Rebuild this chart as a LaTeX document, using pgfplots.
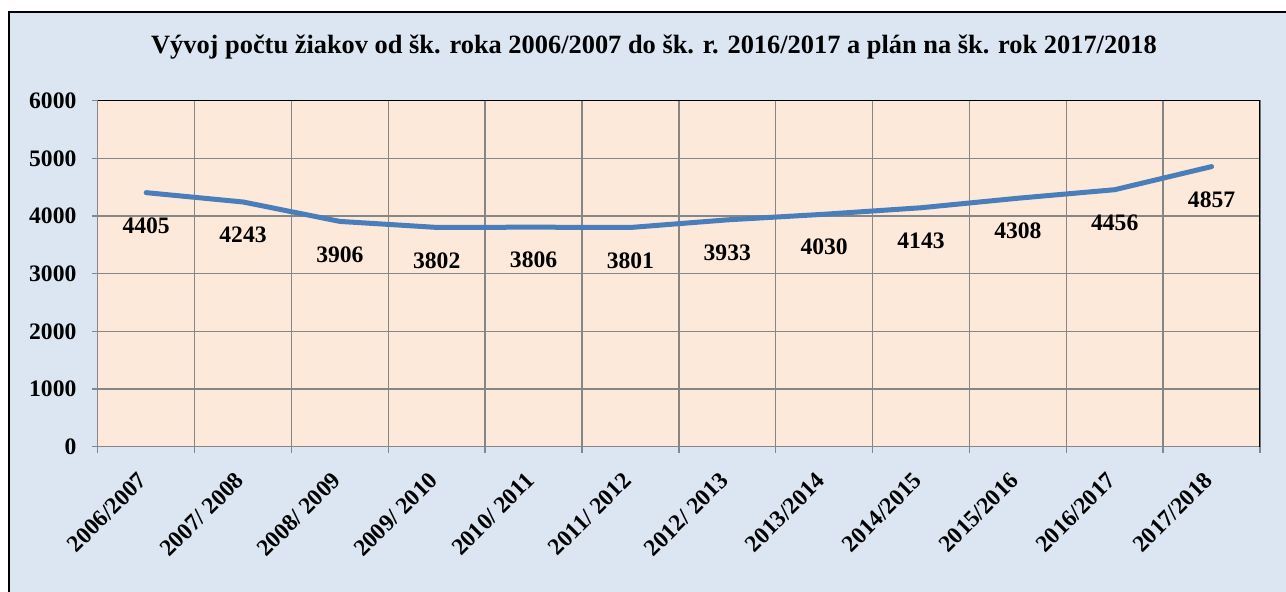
\documentclass[border=0pt]{standalone}
\usepackage{fontspec}
\setmainfont{Liberation Serif}
\usepackage{pgfplots}
\pgfplotsset{compat=1.18}
\definecolor{bgblue}{HTML}{DCE6F2}
\definecolor{peach}{HTML}{FDE9D9}
\definecolor{lineblue}{HTML}{4A7EBB}
\definecolor{gridgray}{HTML}{868686}
\begin{document}
\begin{tikzpicture}
\useasboundingbox (0,0) rectangle (964.5pt,444pt);
\fill[white] (0,0) rectangle (964.5pt,444pt);
\fill[bgblue] (6.75pt,0) rectangle (964.5pt,435pt);
\draw[black, line width=1.2pt] (6.75pt,0) -- (6.75pt,435pt) -- (964.5pt,435pt);
\node[font=\bfseries\fontsize{19.8}{23}\selectfont] at (490.5pt,408.75pt) {Vývoj počtu žiakov od šk. roka 2006/2007 do šk. r. 2016/2017 a plán na šk. rok 2017/2018};
\begin{axis}[
  at={(73.3pt,109pt)}, anchor=south west, scale only axis,
  width=871.7pt, height=259.5pt,
  xmin=-0.5, xmax=11.5, ymin=0, ymax=6000,
  axis background/.style={fill=peach},
  xtick={-0.5,0.5,...,11.5}, xticklabels={},
  ytick={0,1000,...,6000},
  xtick pos=bottom, ytick pos=left,
  scaled y ticks=false,
  /pgf/number format/1000 sep={},
  /pgf/number format/assume math mode=true,
  grid=major, major grid style={gridgray, line width=1pt},
  tick align=outside, major tick length=4.5pt,
  tick style={gridgray, line width=1pt},
  axis line style={gridgray, line width=1pt},
  ticklabel style={font=\bfseries\fontsize{17.7}{20}\selectfont},
  yticklabel style={xshift=-8pt},
  extra x ticks={0,1,2,3,4,5,6,7,8,9,10,11},
  extra x tick labels={2006/2007,2007/ 2008,2008/ 2009,2009/ 2010,2010/ 2011,2011/ 2012,2012/ 2013,2013/2014,2014/2015,2015/2016,2016/2017,2017/2018},
  extra x tick style={major tick length=0pt, grid=none,
     tick label style={yshift=-20pt, rotate=45, anchor=east, font=\bfseries\fontsize{17.7}{20}\selectfont}},
  nodes near coords,
  nodes near coords style={anchor=center, yshift=-24.75pt, black, font=\bfseries\fontsize{17.7}{20}\selectfont},
]
\addplot[lineblue, line width=3.75pt, line join=round, line cap=round, mark=none] coordinates {
(0,4405) (1,4243) (2,3906) (3,3802) (4,3806) (5,3801) (6,3933) (7,4030) (8,4143) (9,4308) (10,4456) (11,4857)
};
\draw[black, line width=1.2pt] (rel axis cs:0,1) -- (rel axis cs:1,1) -- (rel axis cs:1,0);
\end{axis}
\end{tikzpicture}
\end{document}
